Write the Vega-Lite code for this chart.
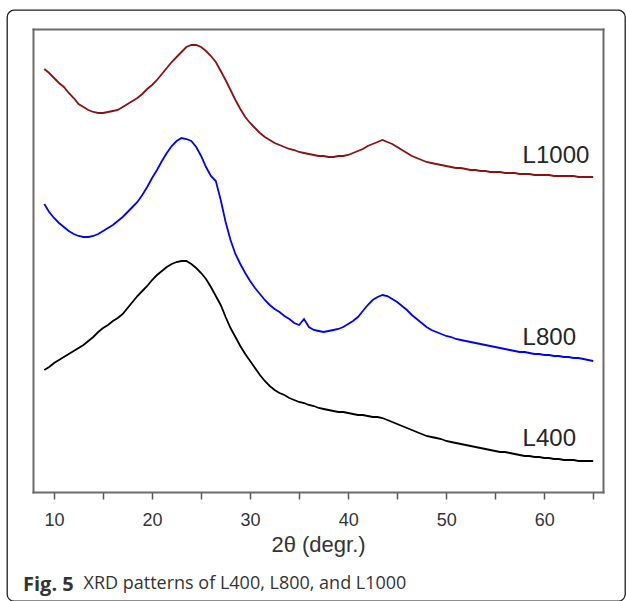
{
  "$schema": "https://vega.github.io/schema/vega-lite/v6.json",
  "width": 618,
  "height": 591,
  "autosize": "none",
  "padding": {"left": 7, "top": 10, "right": 1, "bottom": 0},
  "background": "white",
  "config": {
    "view": {"stroke": "#1e1e1e", "strokeWidth": 1.3, "cornerRadius": 7}
  },
  "title": {
    "text": "Fig. 5",
    "orient": "bottom",
    "anchor": "start",
    "frame": "group",
    "dx": 16,
    "offset": -26,
    "baseline": "top",
    "font": "Open Sans",
    "fontSize": 20,
    "fontWeight": "bold",
    "color": "#333333"
  },
  "datasets": {
    "xrd": [
      {"t": 9, "L400": 122, "L800": 288, "L1000": 423},
      {"t": 9.5, "L400": 125, "L800": 280, "L1000": 419},
      {"t": 10, "L400": 129, "L800": 274, "L1000": 414},
      {"t": 10.5, "L400": 132, "L800": 269, "L1000": 409},
      {"t": 11, "L400": 135, "L800": 265, "L1000": 405},
      {"t": 11.5, "L400": 138, "L800": 261, "L1000": 399},
      {"t": 12, "L400": 141, "L800": 258, "L1000": 394},
      {"t": 12.5, "L400": 144, "L800": 256, "L1000": 388},
      {"t": 13, "L400": 147, "L800": 255, "L1000": 385},
      {"t": 13.5, "L400": 151, "L800": 255, "L1000": 382},
      {"t": 14, "L400": 155, "L800": 256, "L1000": 380},
      {"t": 14.5, "L400": 160, "L800": 258, "L1000": 379},
      {"t": 15, "L400": 164, "L800": 261, "L1000": 379},
      {"t": 15.5, "L400": 167, "L800": 264, "L1000": 380},
      {"t": 16, "L400": 171, "L800": 267, "L1000": 381},
      {"t": 16.5, "L400": 174, "L800": 271, "L1000": 382},
      {"t": 17, "L400": 178, "L800": 275, "L1000": 385},
      {"t": 17.5, "L400": 184, "L800": 280, "L1000": 388},
      {"t": 18, "L400": 190, "L800": 285, "L1000": 391},
      {"t": 18.5, "L400": 196, "L800": 290, "L1000": 394},
      {"t": 19, "L400": 201, "L800": 297, "L1000": 398},
      {"t": 19.5, "L400": 206, "L800": 305, "L1000": 403},
      {"t": 20, "L400": 212, "L800": 314, "L1000": 407},
      {"t": 20.5, "L400": 217, "L800": 322, "L1000": 412},
      {"t": 21, "L400": 221, "L800": 331, "L1000": 418},
      {"t": 21.5, "L400": 225, "L800": 339, "L1000": 424},
      {"t": 22, "L400": 228, "L800": 346, "L1000": 430},
      {"t": 22.5, "L400": 230, "L800": 351, "L1000": 435},
      {"t": 23, "L400": 231, "L800": 354, "L1000": 440},
      {"t": 23.5, "L400": 231, "L800": 353, "L1000": 445},
      {"t": 24, "L400": 228, "L800": 351, "L1000": 447},
      {"t": 24.5, "L400": 224, "L800": 345, "L1000": 447},
      {"t": 25, "L400": 219, "L800": 336, "L1000": 445},
      {"t": 25.5, "L400": 213, "L800": 325, "L1000": 441},
      {"t": 26, "L400": 205, "L800": 316, "L1000": 436},
      {"t": 26.5, "L400": 196, "L800": 311, "L1000": 430},
      {"t": 27, "L400": 187, "L800": 292, "L1000": 421},
      {"t": 27.5, "L400": 175, "L800": 270, "L1000": 412},
      {"t": 28, "L400": 164, "L800": 252, "L1000": 402},
      {"t": 28.5, "L400": 155, "L800": 238, "L1000": 392},
      {"t": 29, "L400": 146, "L800": 228, "L1000": 383},
      {"t": 29.5, "L400": 138, "L800": 219, "L1000": 375},
      {"t": 30, "L400": 131, "L800": 211, "L1000": 369},
      {"t": 30.5, "L400": 124, "L800": 204, "L1000": 364},
      {"t": 31, "L400": 117, "L800": 198, "L1000": 359},
      {"t": 31.5, "L400": 111, "L800": 192, "L1000": 355},
      {"t": 32, "L400": 106, "L800": 187, "L1000": 352},
      {"t": 32.5, "L400": 102, "L800": 183, "L1000": 349},
      {"t": 33, "L400": 99, "L800": 180, "L1000": 347},
      {"t": 33.5, "L400": 97, "L800": 176, "L1000": 345},
      {"t": 34, "L400": 94, "L800": 173, "L1000": 343},
      {"t": 34.5, "L400": 92, "L800": 169, "L1000": 342},
      {"t": 35, "L400": 90, "L800": 167, "L1000": 340},
      {"t": 35.5, "L400": 89, "L800": 173, "L1000": 339},
      {"t": 36, "L400": 87, "L800": 165, "L1000": 338},
      {"t": 36.5, "L400": 86, "L800": 162, "L1000": 337},
      {"t": 37, "L400": 84, "L800": 161, "L1000": 336},
      {"t": 37.5, "L400": 83, "L800": 160, "L1000": 336},
      {"t": 38, "L400": 82, "L800": 161, "L1000": 335},
      {"t": 38.5, "L400": 81, "L800": 162, "L1000": 335},
      {"t": 39, "L400": 80, "L800": 163, "L1000": 336},
      {"t": 39.5, "L400": 80, "L800": 165, "L1000": 336},
      {"t": 40, "L400": 79, "L800": 168, "L1000": 337},
      {"t": 40.5, "L400": 78, "L800": 171, "L1000": 339},
      {"t": 41, "L400": 77, "L800": 175, "L1000": 341},
      {"t": 41.5, "L400": 77, "L800": 181, "L1000": 343},
      {"t": 42, "L400": 76, "L800": 187, "L1000": 346},
      {"t": 42.5, "L400": 75, "L800": 192, "L1000": 348},
      {"t": 43, "L400": 75, "L800": 195, "L1000": 350},
      {"t": 43.5, "L400": 74, "L800": 197, "L1000": 352},
      {"t": 44, "L400": 72, "L800": 196, "L1000": 350},
      {"t": 44.5, "L400": 70, "L800": 193, "L1000": 348},
      {"t": 45, "L400": 68, "L800": 190, "L1000": 345},
      {"t": 45.5, "L400": 66, "L800": 186, "L1000": 342},
      {"t": 46, "L400": 64, "L800": 182, "L1000": 339},
      {"t": 46.5, "L400": 62, "L800": 177, "L1000": 336},
      {"t": 47, "L400": 60, "L800": 173, "L1000": 334},
      {"t": 47.5, "L400": 58, "L800": 169, "L1000": 332},
      {"t": 48, "L400": 56, "L800": 165, "L1000": 330},
      {"t": 48.5, "L400": 55, "L800": 162, "L1000": 329},
      {"t": 49, "L400": 54, "L800": 160, "L1000": 328},
      {"t": 49.5, "L400": 53, "L800": 158, "L1000": 327},
      {"t": 50, "L400": 51, "L800": 156, "L1000": 326},
      {"t": 50.5, "L400": 50, "L800": 155, "L1000": 325},
      {"t": 51, "L400": 49, "L800": 153, "L1000": 324},
      {"t": 51.5, "L400": 48, "L800": 152, "L1000": 324},
      {"t": 52, "L400": 47, "L800": 151, "L1000": 323},
      {"t": 52.5, "L400": 46, "L800": 150, "L1000": 322},
      {"t": 53, "L400": 45, "L800": 149, "L1000": 322},
      {"t": 53.5, "L400": 44, "L800": 148, "L1000": 321},
      {"t": 54, "L400": 43, "L800": 147, "L1000": 321},
      {"t": 54.5, "L400": 42, "L800": 146, "L1000": 320},
      {"t": 55, "L400": 41, "L800": 145, "L1000": 320},
      {"t": 55.5, "L400": 40, "L800": 144, "L1000": 320},
      {"t": 56, "L400": 40, "L800": 143, "L1000": 319},
      {"t": 56.5, "L400": 39, "L800": 142, "L1000": 319},
      {"t": 57, "L400": 38, "L800": 141, "L1000": 319},
      {"t": 57.5, "L400": 37, "L800": 140, "L1000": 318},
      {"t": 58, "L400": 36, "L800": 140, "L1000": 318},
      {"t": 58.5, "L400": 36, "L800": 139, "L1000": 318},
      {"t": 59, "L400": 35, "L800": 138, "L1000": 317},
      {"t": 59.5, "L400": 35, "L800": 138, "L1000": 317},
      {"t": 60, "L400": 34, "L800": 137, "L1000": 317},
      {"t": 60.5, "L400": 34, "L800": 137, "L1000": 317},
      {"t": 61, "L400": 33, "L800": 136, "L1000": 316},
      {"t": 61.5, "L400": 33, "L800": 136, "L1000": 316},
      {"t": 62, "L400": 32, "L800": 135, "L1000": 316},
      {"t": 62.5, "L400": 32, "L800": 135, "L1000": 316},
      {"t": 63, "L400": 32, "L800": 134, "L1000": 316},
      {"t": 63.5, "L400": 31, "L800": 134, "L1000": 315},
      {"t": 64, "L400": 31, "L800": 133, "L1000": 315},
      {"t": 64.5, "L400": 31, "L800": 132, "L1000": 315},
      {"t": 65, "L400": 31, "L800": 131, "L1000": 315}
    ],
    "tags": [
      {"sample": "L1000", "t": 57.8, "level": 336},
      {"sample": "L800", "t": 57.8, "level": 154},
      {"sample": "L400", "t": 57.8, "level": 53}
    ]
  },
  "layer": [
    {
      "data": {"name": "xrd"},
      "transform": [{"fold": ["L400", "L800", "L1000"], "as": ["sample", "intensity"]}],
      "mark": {"type": "line", "strokeWidth": 1.8},
      "encoding": {
        "x": {
          "field": "t",
          "type": "quantitative",
          "scale": {"domain": [7.85, 66], "range": [26, 596], "nice": false, "zero": false},
          "axis": {
            "orient": "bottom",
            "offset": -109,
            "values": [10, 15, 20, 25, 30, 35, 40, 45, 50, 55, 60, 65],
            "labelExpr": "datum.value % 10 === 0 ? datum.label : ''",
            "format": "d",
            "grid": false,
            "domainColor": "#6b6b6b",
            "domainWidth": 2,
            "domainCap": "square",
            "tickColor": "#555555",
            "tickWidth": 1.5,
            "tickSize": 7,
            "labelFont": "Liberation Sans",
            "labelFontSize": 18,
            "labelColor": "#333333",
            "labelPadding": 12,
            "labelFlush": false,
            "labelOverlap": false,
            "title": "2θ (degr.)",
            "titleFont": "Liberation Sans",
            "titleFontSize": 22,
            "titleFontWeight": "normal",
            "titleColor": "#333333",
            "titlePadding": 5
          }
        },
        "y": {
          "field": "intensity",
          "type": "quantitative",
          "scale": {"domain": [0, 463], "range": [482, 19], "nice": false, "zero": false},
          "axis": {
            "orient": "left",
            "offset": -26,
            "ticks": false,
            "labels": false,
            "title": null,
            "grid": false,
            "domainColor": "#6b6b6b",
            "domainWidth": 2,
            "domainCap": "square"
          }
        },
        "color": {
          "field": "sample",
          "type": "nominal",
          "scale": {"domain": ["L400", "L800", "L1000"], "range": ["#000000", "#0000ff", "#8b1212"]},
          "legend": null
        }
      }
    },
    {
      "data": {"name": "tags"},
      "mark": {"type": "text", "align": "left", "baseline": "middle", "font": "Liberation Sans", "fontSize": 24, "fill": "#262626"},
      "encoding": {
        "x": {
          "field": "t",
          "type": "quantitative",
          "axis": {
            "orient": "top",
            "offset": -19,
            "ticks": false,
            "labels": false,
            "grid": false,
            "domainColor": "#6b6b6b",
            "domainWidth": 2,
            "domainCap": "square",
            "title": "XRD patterns of L400, L800, and L1000",
            "titleX": 76,
            "titleY": 559,
            "titleAlign": "left",
            "titleAngle": 0,
            "titleBaseline": "alphabetic",
            "titleFont": "Open Sans",
            "titleFontSize": 18,
            "titleFontWeight": "normal",
            "titleColor": "#333333"
          }
        },
        "y": {
          "field": "level",
          "type": "quantitative",
          "axis": {
            "orient": "right",
            "offset": -22,
            "ticks": false,
            "labels": false,
            "title": null,
            "grid": false,
            "domainColor": "#6b6b6b",
            "domainWidth": 2,
            "domainCap": "square"
          }
        },
        "text": {"field": "sample"}
      }
    }
  ],
  "resolve": {"axis": {"x": "independent", "y": "independent"}}
}
